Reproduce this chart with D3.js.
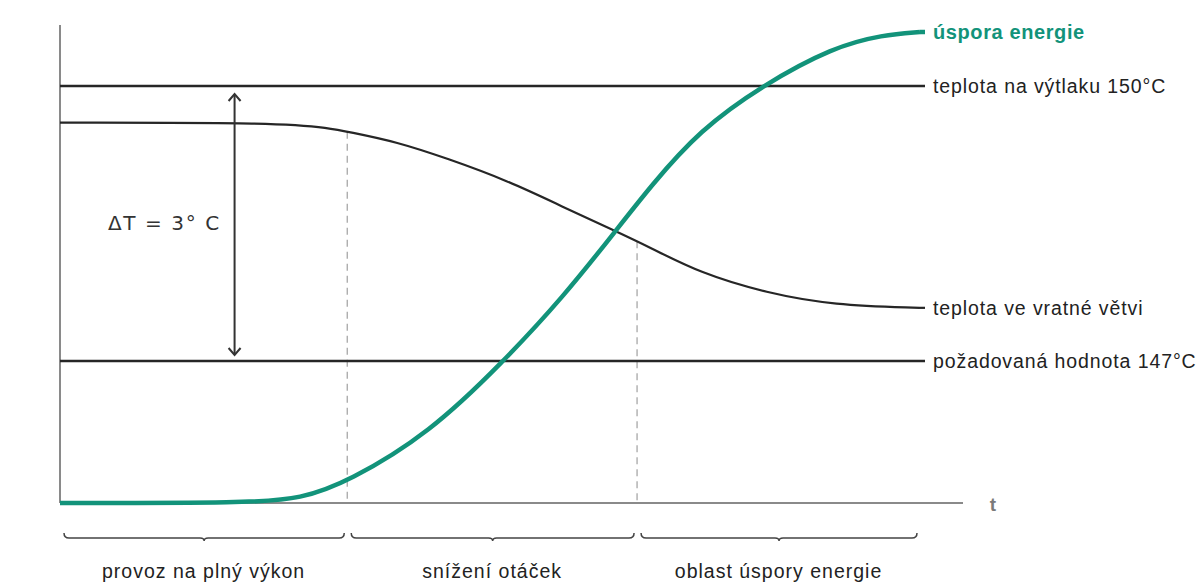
<!DOCTYPE html>
<html>
<head>
<meta charset="utf-8">
<script src="https://cdn.jsdelivr.net/npm/d3@7"></script>
<style>
    body { margin: 0; background: #fff; }
    svg { display: block; font-family: "Liberation Sans", Arial, sans-serif; }
</style>
</head>
<body>
<div id="svg_container"></div>
<script>
// time axis, 0..100 = end of the curves
const tDomain = [0, 105];

// energy saving curve (relative %, 0..100)
const savingT = [0, 22, 28, 33.5, 43, 51.5, 58.5, 64.8, 68.6, 74.4, 81.7, 89.9, 95.7, 100];
const savingV = [0, 0, 0.9, 4.5, 14.9, 29.9, 43.7, 58.2, 67.1, 79.2, 88.7, 96.8, 99.4, 100];

// return line temperature (°C)
const returnT = [0, 25.6, 31.4, 33.5, 39.2, 45, 52, 58.5, 64.3, 68.6, 74.4, 82.2, 89.9, 100];
const returnV = [149.6, 149.6, 149.54, 149.5, 149.39, 149.21, 148.97, 148.68, 148.43, 148.24, 147.96, 147.74, 147.61, 147.58];

// constant temperatures
const dischargeTemp = 150;
const setpointTemp = 147;

// phases along t
const phaseBounds = [0, 33.4, 67.1, 100];
const phaseLabels = ["provoz na plný výkon", "snížení otáček", "oblast úspory energie"];

const lineLabels = [
    { text: "úspora energie", key: "saving" },
    { text: "teplota na výtlaku 150°C", key: "discharge" },
    { text: "teplota ve vratné větvi", key: "return" },
    { text: "požadovaná hodnota 147°C", key: "setpoint" }
];

function createChart() {
    const width = 1200, height = 585;
    const teal = "#12937a";

    const svg = d3.select('#svg_container').append("svg")
        .attr("width", width)
        .attr("height", height);

    const x = d3.scaleLinear().domain(tDomain).range([60, 963]);
    const yTemp = d3.scaleLinear().domain([setpointTemp, dischargeTemp]).range([361, 86]);
    const ySave = d3.scaleLinear().domain([0, 100]).range([503, 32]);

    // axes
    svg.append("line")
        .attr("x1", x(0)).attr("x2", x(0))
        .attr("y1", 25).attr("y2", ySave(0))
        .attr("stroke", "#8a8a8a").attr("stroke-width", 2);
    svg.append("line")
        .attr("x1", x(0)).attr("x2", x(tDomain[1]))
        .attr("y1", ySave(0)).attr("y2", ySave(0))
        .attr("stroke", "#8a8a8a").attr("stroke-width", 2);
    svg.append("text")
        .attr("x", 993).attr("y", ySave(0) + 8)
        .attr("text-anchor", "middle")
        .attr("fill", "#7a7a7a")
        .attr("font-weight", "bold")
        .attr("font-size", 19)
        .text("t");

    const returnData = returnT.map((t, i) => ({ t: t, v: returnV[i] }));
    const savingData = savingT.map((t, i) => ({ t: t, v: savingV[i] }));

    // smooth curves through the read-off points
    const returnLine = d3.line().x(d => x(d.t)).y(d => yTemp(d.v)).curve(d3.curveBasis);
    const savingLine = d3.line().x(d => x(d.t)).y(d => ySave(d.v)).curve(d3.curveBasis);

    // dashed phase separators, from the return curve down to the axis
    const interp = d3.scaleLinear().domain(returnT).range(returnV);
    svg.append("g")
        .selectAll("line")
        .data(phaseBounds.slice(1, 3))
        .join("line")
        .attr("x1", d => x(d)).attr("x2", d => x(d))
        .attr("y1", d => yTemp(interp(d)))
        .attr("y2", ySave(0))
        .attr("stroke", "#a0a0a0")
        .attr("stroke-width", 1.2)
        .attr("stroke-dasharray", "7,5");

    // horizontal temperature lines
    svg.append("g")
        .attr("stroke", "#262626")
        .attr("stroke-width", 2.5)
        .selectAll("line")
        .data([dischargeTemp, setpointTemp])
        .join("line")
        .attr("x1", x(0)).attr("x2", x(100) + 5)
        .attr("y1", d => yTemp(d)).attr("y2", d => yTemp(d));

    // return temperature curve
    svg.append("path")
        .datum(returnData)
        .attr("fill", "none")
        .attr("stroke", "#262626")
        .attr("stroke-width", 2.2)
        .attr("d", returnLine);
    svg.append("line")
        .attr("x1", x(100)).attr("x2", x(100) + 5)
        .attr("y1", yTemp(returnV[returnV.length - 1])).attr("y2", yTemp(returnV[returnV.length - 1]))
        .attr("stroke", "#262626").attr("stroke-width", 2.2);

    // energy saving curve
    svg.append("path")
        .datum(savingData)
        .attr("fill", "none")
        .attr("stroke", teal)
        .attr("stroke-width", 4.5)
        .attr("d", savingLine);
    svg.append("line")
        .attr("x1", x(100)).attr("x2", x(100) + 5)
        .attr("y1", ySave(100)).attr("y2", ySave(100))
        .attr("stroke", teal).attr("stroke-width", 4.5);

    // delta T arrow
    const ax = x(20.3);
    const ay1 = yTemp(dischargeTemp) + 8, ay2 = yTemp(setpointTemp) - 6;
    const arrow = svg.append("g")
        .attr("stroke", "#333")
        .attr("stroke-width", 2)
        .attr("fill", "none");
    arrow.append("line").attr("x1", ax).attr("x2", ax).attr("y1", ay1).attr("y2", ay2);
    arrow.append("path").attr("d", `M${ax - 6},${ay1 + 7}L${ax},${ay1}L${ax + 6},${ay1 + 7}`);
    arrow.append("path").attr("d", `M${ax - 6},${ay2 - 7}L${ax},${ay2}L${ax + 6},${ay2 - 7}`);

    svg.append("text")
        .attr("x", 108).attr("y", 230)
        .attr("font-family", "'DejaVu Sans', sans-serif")
        .attr("font-size", 20)
        .attr("letter-spacing", 1.6)
        .attr("fill", "#333")
        .text("ΔT = 3° C");

    // line labels on the right
    const labelY = {
        saving: ySave(100),
        discharge: yTemp(dischargeTemp),
        return: yTemp(returnV[returnV.length - 1]),
        setpoint: yTemp(setpointTemp)
    };
    svg.append("g")
        .selectAll("text")
        .data(lineLabels)
        .join("text")
        .attr("x", 933)
        .attr("y", d => labelY[d.key] + 7)
        .attr("font-size", d => d.key === "saving" ? 20 : 19.5)
        .attr("font-weight", d => d.key === "saving" ? "bold" : "normal")
        .attr("fill", d => d.key === "saving" ? teal : "#222")
        .attr("letter-spacing", d => d.key === "saving" ? 0.6 : 0.9)
        .text(d => d.text);

    // phase braces and labels
    const phases = phaseLabels.map((label, i) => ({ label: label, a: phaseBounds[i], b: phaseBounds[i + 1] }));
    const by = 538;
    svg.append("g")
        .attr("fill", "none")
        .attr("stroke", "#444")
        .attr("stroke-width", 1.5)
        .selectAll("path")
        .data(phases)
        .join("path")
        .attr("d", d => {
            const x0 = x(d.a) + 4, x1 = x(d.b) - 3, m = (x0 + x1) / 2;
            return `M${x0},${by - 5}Q${x0},${by} ${x0 + 5},${by}L${m - 4},${by}Q${m},${by} ${m},${by + 3}` +
                `Q${m},${by} ${m + 4},${by}L${x1 - 5},${by}Q${x1},${by} ${x1},${by - 5}`;
        });

    svg.append("g")
        .selectAll("text")
        .data(phases)
        .join("text")
        .attr("x", d => (x(d.a) + x(d.b)) / 2)
        .attr("y", 578)
        .attr("text-anchor", "middle")
        .attr("font-size", 19.5)
        .attr("letter-spacing", 1)
        .attr("fill", "#222")
        .text(d => d.label);
}

document.addEventListener('DOMContentLoaded', function (e) {
    createChart();
});
</script>
</body>
</html>
